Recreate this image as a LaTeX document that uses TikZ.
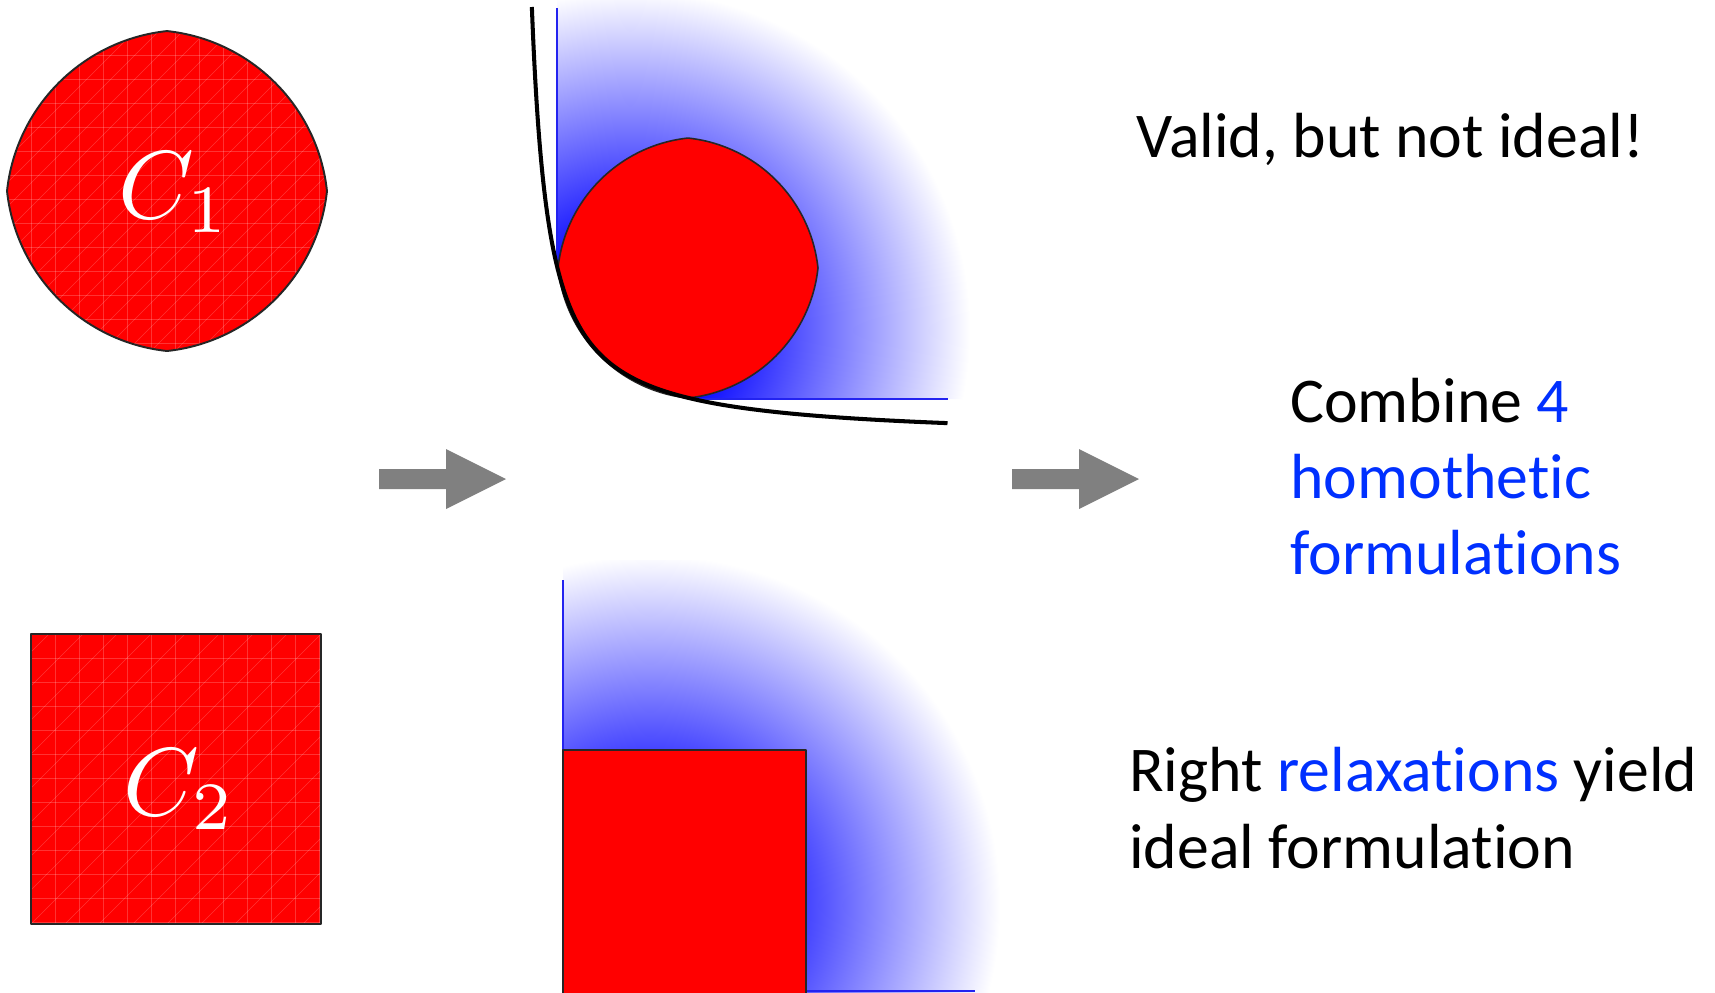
\documentclass[tikz,border=0pt]{standalone}
\usepackage[no-math]{fontspec}
\newfontfamily\calib[Ligatures={NoCommon}, Contextuals={NoAlternate}]{Carlito}
\definecolor{tblue}{RGB}{0,48,255}
\definecolor{lblue}{RGB}{35,35,240}
\definecolor{agray}{RGB}{128,128,128}
\pgfdeclareradialshading{blueglow}{\pgfpoint{0bp}{0bp}}{color(0bp)=(blue); color(6bp)=(blue); color(25bp)=(white); color(50bp)=(white)}
\tikzset{
  txt/.style={font=\calib\fontsize{36.3pt}{43pt}\selectfont, anchor=base west, inner sep=0pt},
  lbl/.style={text=white, scale=5.5, anchor=base, inner sep=0pt},
  redset/.style={fill=red, draw=black!85, line width=0.9pt, line join=round},
  mesh/.style={draw=white, draw opacity=0.2, line width=0.35pt},
  axisline/.style={draw=lblue, line width=1.2pt},
  hyper/.style={draw=black, line width=2.3pt},
  blockarrow/.style={fill=agray, draw=none},
}
\begin{document}
\begin{tikzpicture}[x=0.02cm, y=-0.02cm]
\useasboundingbox (0,0) rectangle (1715,992);
\fill[white] (0,0) rectangle (1715,992);

% ---------- left: C1 ----------
\begin{scope}[shift={(167,191)}, scale=160]
  \path[redset, line width=1.1pt, path picture={
      \foreach \k in {0,...,13} {
        \draw[mesh] ({-1+0.15*\k},-1) -- ({-1+0.15*\k},1);
        \draw[mesh] (-1,{-1+0.15*\k}) -- (1,{-1+0.15*\k});}
      \foreach \k in {-14,...,14} {
        \draw[mesh] ({-1+0.15*\k},1) -- ({1+0.15*\k},-1);}
    }] (0,1) arc[start angle=83.88, end angle=6.12, radius=1.1264]
     arc[start angle=-6.12, end angle=-83.88, radius=1.1264]
     arc[start angle=263.88, end angle=186.12, radius=1.1264]
     arc[start angle=173.88, end angle=96.12, radius=1.1264] -- cycle;
\end{scope}
\node[lbl] (c1) at (175,218) {$C_1$};

% ---------- left: C2 ----------
\path[redset, line width=1.1pt, path picture={
    \foreach \k in {0,...,12} {
      \draw[mesh] ({31+24*\k},634) -- ({31+24*\k},924);
      \draw[mesh] (31,{634+24*\k}) -- (321,{634+24*\k});}
    \foreach \k in {-9,...,9} {
      \draw[mesh] ({31+34*\k},924) -- ({321+34*\k},634);}
  }] (31,634) rectangle (321,924);
\node[lbl] (c2) at (180,815) {$C_2$};

% ---------- arrows ----------
\fill[blockarrow] (379,469) -- (446,469) -- (446,449) -- (506,479) -- (446,509) -- (446,489) -- (379,489) -- cycle;
\fill[blockarrow] (1012,469) -- (1079,469) -- (1079,449) -- (1139,479) -- (1079,509) -- (1079,489) -- (1012,489) -- cycle;

% ---------- top middle ----------
\begin{scope}
  \clip (557,0) -- (557,267) -- plot[domain=-0.71:0.706, samples=40] ({515+85.44*exp(\x)},{440-85.44*exp(-\x)}) -- (688,399) -- (1000,399) -- (1000,0) -- cycle;
  \shade[shading=blueglow] (630,330) circle[radius=340];
\end{scope}
\draw[axisline] (557,8) -- (557,267);
\draw[axisline] (688,399) -- (948,399);
\begin{scope}[shift={(688,268)}, scale=130]
  \path[redset] (0,1) arc[start angle=83.88, end angle=6.12, radius=1.1264]
     arc[start angle=-6.12, end angle=-83.88, radius=1.1264]
     arc[start angle=263.88, end angle=186.12, radius=1.1264]
     arc[start angle=173.88, end angle=96.12, radius=1.1264] -- cycle;
\end{scope}
\draw[hyper] plot[domain=-1.623:1.623, samples=120] ({515+85.44*exp(\x)},{440-85.44*exp(-\x)});

% ---------- bottom middle ----------
\begin{scope}
  \clip (563,560) rectangle (1000,992);
  \shade[shading=blueglow] (650,905) circle[radius=350];
\end{scope}
\draw[axisline] (563,580) -- (563,750);
\draw[axisline] (806,991) -- (975,991);
\path[redset] (563,750) rectangle (806,996);

% ---------- texts ----------
\node[txt] (valid) at (1136,157) {Valid, but not ideal!};
\node[txt] (comb) at (1290,422) {Combine \textcolor{tblue}{4}};
\node[txt, text=tblue] (homo) at (1290,498) {homothetic};
\node[txt, text=tblue] (form) at (1290,574) {formulations};
\node[txt] (right) at (1129,791) {Right \textcolor{tblue}{relaxations} yield};
\node[txt] (ideal) at (1129,868) {ideal formulation};
\end{tikzpicture}
\end{document}
